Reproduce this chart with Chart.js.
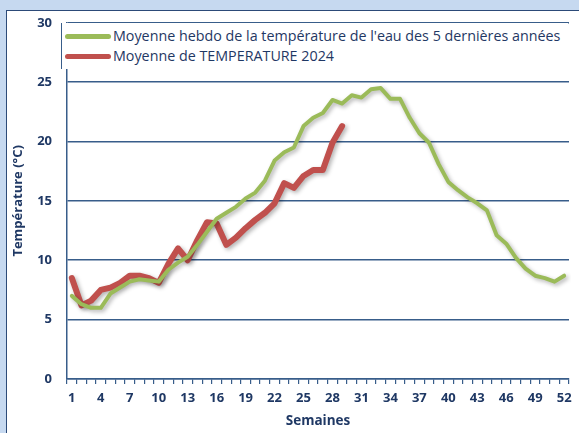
<!DOCTYPE html>
<html>
<head>
<meta charset="utf-8">
<script src="https://cdn.jsdelivr.net/npm/chart.js@4/dist/chart.umd.min.js"></script>
<style>
  html, body { margin: 0; padding: 0; }
  body { width: 579px; height: 433px; background: #c6d9f0; position: relative; overflow: hidden; font-family: "Open Sans", sans-serif; }
  #panel { position: absolute; left: 6px; top: 10px; width: 600px; height: 460px; background: #fff; border: 1.5px solid #2c4a78; box-sizing: border-box; }
  #wrap { position: absolute; left: 0; top: 0; width: 579px; height: 433px; }
  #legend { position: absolute; left: 61px; top: 23px; width: 506px; height: 46px; background: #fff; border-left: 1.5px solid #385d8a; }
  .item { position: relative; height: 20px; line-height: 20px; font-size: 14.3px; color: #1f3864; white-space: nowrap; }
  .item:first-child { margin-top: 3px; }
  .swatch { position: absolute; left: 3px; top: 8px; width: 46px; height: 5px; border-radius: 3px; }
  .lbl { position: absolute; left: 51px; top: 0; }
</style>
</head>
<body>
<div id="panel"></div>
<div id="wrap"><canvas id="c" width="579" height="433"></canvas></div>
<div id="legend"></div>
<script>
const weeks = Array.from({length: 52}, (_, i) => String(i + 1));
const moyenne5ans = [7.0, 6.3, 6.0, 6.0, 7.2, 7.7, 8.2, 8.4, 8.3, 8.2, 9.2, 9.8, 10.3, 11.3, 12.4, 13.5, 14.0, 14.5, 15.2, 15.7, 16.7, 18.4, 19.1, 19.5, 21.3, 22.0, 22.4, 23.5, 23.2, 23.9, 23.7, 24.4, 24.5, 23.6, 23.6, 22.0, 20.7, 19.9, 18.1, 16.6, 15.9, 15.3, 14.8, 14.2, 12.1, 11.4, 10.2, 9.3, 8.7, 8.5, 8.2, 8.7];
const temp2024 = [8.5, 6.2, 6.6, 7.5, 7.7, 8.1, 8.7, 8.7, 8.5, 8.1, 9.7, 11.0, 10.0, 11.7, 13.2, 13.1, 11.3, 11.9, 12.7, 13.4, 14.0, 14.8, 16.5, 16.1, 17.1, 17.6, 17.6, 19.9, 21.3];
const yTicks = [0, 5, 10, 15, 20, 25, 30];
const seriesLabels = ["Moyenne hebdo de la température de l'eau des 5 dernières années", "Moyenne de TEMPERATURE 2024"];
const seriesColors = ["#9bbb59", "#c0504d"];

const navy = "#1f3864";
const fontFam = "'Open Sans', sans-serif";

const shadowPlugin = {
  id: 'shadow',
  beforeDatasetDraw(chart) {
    const ctx = chart.ctx;
    ctx.save();
    ctx.shadowColor = 'rgba(0,0,0,0.3)';
    ctx.shadowBlur = 4;
    ctx.shadowOffsetX = 2;
    ctx.shadowOffsetY = 2;
  },
  afterDatasetDraw(chart) { chart.ctx.restore(); }
};

new Chart(document.getElementById('c'), {
  type: 'line',
  data: {
    labels: weeks,
    datasets: [
      { label: seriesLabels[0], data: moyenne5ans, borderColor: seriesColors[0], backgroundColor: seriesColors[0], borderWidth: 4, pointRadius: 0, tension: 0, borderJoinStyle: 'round', borderCapStyle: 'round' },
      { label: seriesLabels[1], data: temp2024, borderColor: seriesColors[1], backgroundColor: seriesColors[1], borderWidth: 6, pointRadius: 0, tension: 0, borderJoinStyle: 'round', borderCapStyle: 'round' }
    ]
  },
  options: {
    responsive: false,
    animation: false,
    devicePixelRatio: 1,
    layout: { padding: { top: 12, right: 10, left: 10, bottom: 4 } },
    plugins: { legend: { display: false }, tooltip: { enabled: false } },
    scales: {
      x: {
        type: 'category',
        offset: true,
        grid: { display: true, drawOnChartArea: false, drawTicks: true, tickLength: 5, color: '#385d8a', lineWidth: 1.2, offset: true },
        border: { display: true, color: '#385d8a', width: 1.5 },
        ticks: {
          autoSkip: false, maxRotation: 0, padding: 6,
          color: navy, font: { family: fontFam, size: 13, weight: 'bold' },
          callback: function(v, i) { return i % 3 === 0 ? weeks[i] : ''; }
        },
        title: { display: true, text: 'Semaines', color: navy, font: { family: fontFam, size: 13.5, weight: 'bold' }, padding: { top: 2, bottom: 0 } },
        afterFit(scale) { scale.height = 50; }
      },
      y: {
        min: 0, max: 30,
        afterBuildTicks(scale) { scale.ticks = yTicks.map(v => ({ value: v })); },
        grid: { color: '#385d8a', lineWidth: 1.6, drawTicks: false },
        border: { display: true, color: '#385d8a', width: 1.5 },
        ticks: { padding: 15, color: navy, font: { family: fontFam, size: 13, weight: 'bold' } },
        title: { display: true, text: 'Température (°C)', color: navy, font: { family: fontFam, size: 13, weight: 'bold' }, padding: { top: 0, bottom: 0 } },
        afterFit(scale) { scale.width = 57; }
      }
    }
  },
  plugins: [shadowPlugin]
});

const legend = document.getElementById('legend');
seriesLabels.forEach((t, i) => {
  const it = document.createElement('div');
  it.className = 'item';
  const sw = document.createElement('div');
  sw.className = 'swatch';
  sw.style.background = seriesColors[i];
  const lb = document.createElement('span');
  lb.className = 'lbl';
  lb.textContent = t;
  it.appendChild(sw); it.appendChild(lb);
  legend.appendChild(it);
});
</script>
</body>
</html>
